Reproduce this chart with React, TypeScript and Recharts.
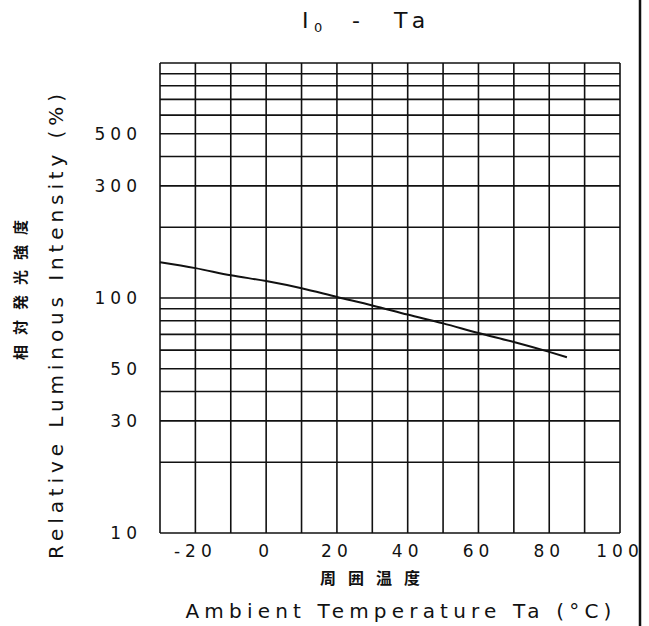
import { LineChart, Line, XAxis, YAxis, CartesianGrid } from 'recharts'

// temperature (°C) vs relative luminous intensity (%)
const temps = [-30, -20, -10, 0, 10, 20, 30, 40, 50, 60, 70, 80, 85]
const intensity = [142, 134, 125, 118, 110, 101, 93, 85, 78, 71, 65, 59, 56]

const xTicks = [-30, -20, -10, 0, 10, 20, 30, 40, 50, 60, 70, 80, 90, 100]
const xLabeled = [-20, 0, 20, 40, 60, 80, 100]
const yTicks = [10, 20, 30, 40, 50, 60, 70, 80, 90, 100, 200, 300, 400, 500, 600, 700, 800, 900, 1000]
const yLabeled = [10, 30, 50, 100, 300, 500]

const data = temps.map((t, i) => ({ t, v: intensity[i] }))

const font = '"DejaVu Sans", sans-serif'
const jpFont = '"Noto Sans CJK JP", sans-serif'

export default function App() {
  return (
    <div style={{ position: 'absolute', left: 0, top: 0, width: 649, height: 626, background: '#fff' }}>
      <LineChart width={649} height={626} data={data} margin={{ top: 63, right: 29, bottom: 63, left: 10 }}>
        <CartesianGrid stroke="#111" strokeWidth={1.6} />
        <XAxis
          dataKey="t"
          type="number"
          domain={[-30, 100]}
          ticks={xTicks}
          interval={0}
          height={30}
          axisLine={false}
          tickLine={false}
          tickFormatter={(v: number) => (xLabeled.includes(v) ? String(v) : '')}
          tick={{ fill: '#111', fontSize: 17, fontFamily: font, letterSpacing: 5 }}
          tickMargin={6}
        />
        <YAxis
          type="number"
          scale="log"
          domain={[10, 1000]}
          ticks={yTicks}
          interval={0}
          allowDataOverflow
          width={150}
          axisLine={false}
          tickLine={false}
          tickFormatter={(v: number) => (yLabeled.includes(v) ? String(v) : '')}
          tick={{ fill: '#111', fontSize: 17, fontFamily: font, letterSpacing: 5 }}
          tickMargin={12}
        />
        <Line
          type="monotone"
          dataKey="v"
          stroke="#111"
          strokeWidth={2}
          dot={false}
          isAnimationActive={false}
        />
      </LineChart>
      <svg
        width={649}
        height={626}
        style={{ position: 'absolute', left: 0, top: 0, pointerEvents: 'none' }}
      >
        <g fontFamily={font} fontSize={22} fill="#111">
          <text x={302} y={28}>I</text>
          <text x={314} y={32} fontSize={13}>0</text>
          <text x={352} y={28}>-</text>
          <text x={394} y={28} letterSpacing={8}>Ta</text>
        </g>
        <text
          transform="translate(63,324) rotate(-90)"
          textAnchor="middle"
          fontFamily={font}
          fontSize={20}
          fill="#111"
          letterSpacing={4.9}
        >
          Relative Luminous Intensity  (%)
        </text>
        <text
          transform="translate(26,285) rotate(-90)"
          textAnchor="middle"
          fontFamily={jpFont}
          fontSize={15}
          fontWeight={700}
          fill="#111"
          letterSpacing={10}
        >
          相対発光強度
        </text>
        <text x={376} y={584} textAnchor="middle" fontFamily={jpFont} fontSize={16} fontWeight={700} fill="#111" letterSpacing={12}>
          周囲温度
        </text>
        <text x={401} y={618} textAnchor="middle" fontFamily={font} fontSize={20} fill="#111" letterSpacing={5.2}>
          Ambient Temperature Ta  (°C)
        </text>
        <line x1={640} y1={0} x2={640} y2={626} stroke="#111" strokeWidth={2.5} />
      </svg>
    </div>
  )
}
